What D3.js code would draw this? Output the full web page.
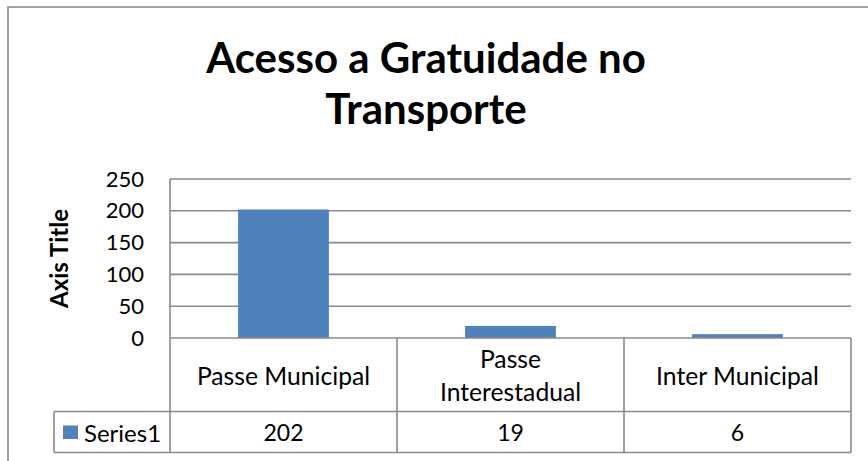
<!DOCTYPE html>
<html>
<head>
<meta charset="utf-8">
<script src="https://cdn.jsdelivr.net/npm/d3@7"></script>
<style>
  html, body { margin: 0; padding: 0; background: #fff; }
  svg { display: block; }
  text { font-family: Lato, "Open Sans", sans-serif; fill: #000; }
</style>
</head>
<body>
<svg id="chart" width="868" height="461"></svg>
<script>
// ---- data ----
const categories = ["Passe Municipal", "Passe Interestadual", "Inter Municipal"];
const categoryLines = [["Passe Municipal"], ["Passe", "Interestadual"], ["Inter Municipal"]];
const seriesName = "Series1";
const values = [202, 19, 6];
const yTicks = [0, 50, 100, 150, 200, 250];
const titleLines = ["Acesso a Gratuidade no", "Transporte"];
const yAxisTitle = "Axis Title";

// ---- layout ----
const W = 868, H = 461;
const plot = { left: 170, right: 851, top: 179, bottom: 338 };
const table = { catBottom: 411.5, valBottom: 452.5, legendLeft: 54 };
const lineColor = "#8a8a8a";
const barColor = "#4F81BD";

const svg = d3.select("#chart");

// outer chart border (extends beyond viewport right/bottom)
svg.append("rect")
  .attr("x", 8).attr("y", 7)
  .attr("width", W + 20).attr("height", H + 20)
  .attr("fill", "#fff")
  .attr("stroke", lineColor).attr("stroke-width", 1.6);

const x = d3.scaleBand().domain(categories).range([plot.left, plot.right])
  .paddingInner(0.6).paddingOuter(0.3);
const xCell = d3.scaleBand().domain(categories).range([plot.left, plot.right]).padding(0);
const y = d3.scaleLinear().domain([0, 250]).range([plot.bottom, plot.top]);

// title
const title = svg.append("text")
  .attr("x", 425).attr("y", 73)
  .attr("text-anchor", "middle")
  .style("font-size", "42px").style("font-weight", "bold");
titleLines.forEach((t, i) => {
  title.append("tspan").attr("x", 426).attr("dy", i === 0 ? 0 : 51).text(t);
});

// gridlines
svg.append("g").selectAll("line")
  .data(yTicks.filter(d => d > 0))
  .join("line")
  .attr("x1", plot.left).attr("x2", plot.right)
  .attr("y1", d => y(d)).attr("y2", d => y(d))
  .attr("stroke", lineColor).attr("stroke-width", 1.6);

// y axis labels via d3 axis
const yAxis = d3.axisLeft(y).tickValues(yTicks).tickSize(0).tickPadding(26);
const gy = svg.append("g").attr("transform", `translate(${plot.left},0)`).call(yAxis);
gy.select(".domain").remove();
gy.selectAll("text")
  .style("font-family", "Lato, 'Open Sans', sans-serif")
  .style("font-size", "22px").attr("fill", "#000");

// bars
svg.append("g").selectAll("rect")
  .data(values)
  .join("rect")
  .attr("x", (d, i) => x(categories[i]))
  .attr("width", x.bandwidth())
  .attr("y", d => y(d))
  .attr("height", d => y(0) - y(d))
  .attr("fill", barColor);

// y axis vertical line (extends through data table)
svg.append("line")
  .attr("x1", plot.left).attr("x2", plot.left)
  .attr("y1", plot.top).attr("y2", table.valBottom)
  .attr("stroke", lineColor).attr("stroke-width", 1.6);

// y axis title
svg.append("text")
  .attr("transform", `translate(68, ${(plot.top + plot.bottom) / 2}) rotate(-90)`)
  .attr("text-anchor", "middle")
  .style("font-size", "24px").style("font-weight", "bold")
  .text(yAxisTitle);

// ---- data table ----
const tg = svg.append("g");
const hl = (x1, x2, yy) => tg.append("line").attr("x1", x1).attr("x2", x2)
  .attr("y1", yy).attr("y2", yy).attr("stroke", lineColor).attr("stroke-width", 1.6);
const vl = (xx, y1, y2) => tg.append("line").attr("x1", xx).attr("x2", xx)
  .attr("y1", y1).attr("y2", y2).attr("stroke", lineColor).attr("stroke-width", 1.6);

hl(plot.left, plot.right, plot.bottom);
hl(table.legendLeft, plot.right, table.catBottom);
hl(table.legendLeft, plot.right, table.valBottom);
vl(table.legendLeft, table.catBottom, table.valBottom);
categories.forEach(c => vl(xCell(c) + xCell.bandwidth(), plot.bottom, table.valBottom));

// category labels
const catMid = (plot.bottom + table.catBottom) / 2;
const lineH = 33;
categories.forEach((c, i) => {
  const lines = categoryLines[i];
  const t = tg.append("text")
    .attr("text-anchor", "middle")
    .attr("dominant-baseline", "central")
    .style("font-size", "24.7px");
  lines.forEach((ln, j) => {
    t.append("tspan")
      .attr("x", xCell(c) + xCell.bandwidth() / 2)
      .attr("y", catMid + (j - (lines.length - 1) / 2) * lineH)
      .text(ln);
  });
});

// value labels
const valMid = (table.catBottom + table.valBottom) / 2;
values.forEach((v, i) => {
  tg.append("text")
    .attr("x", xCell(categories[i]) + xCell.bandwidth() / 2)
    .attr("y", valMid)
    .attr("text-anchor", "middle")
    .attr("dominant-baseline", "central")
    .style("font-size", "23px")
    .text(v);
});

// legend key + series name
tg.append("rect")
  .attr("x", 63).attr("y", 425.5).attr("width", 15).attr("height", 13.5)
  .attr("fill", barColor);
tg.append("text")
  .attr("x", 84).attr("y", valMid)
  .attr("dominant-baseline", "central")
  .style("font-size", "24px")
  .text(seriesName);
</script>
</body>
</html>
